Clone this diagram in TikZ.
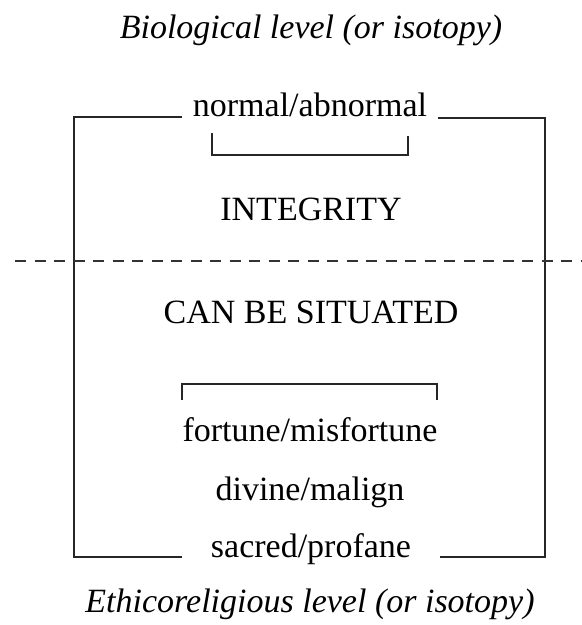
\documentclass[tikz,border=0pt]{standalone}
\usepackage{fontspec}
\setmainfont{Liberation Serif}
\usepackage{tikz}

\begin{document}
\begin{tikzpicture}[x=1pt,y=-1pt,
    term/.style={inner sep=0pt,anchor=base,font=\fontsize{34}{40}\selectfont},
    level/.style={term,font=\fontsize{34}{40}\selectfont\itshape},
    bracket/.style={line width=1.1pt,black!85},
    divider/.style={line width=1.1pt,black!80,dash pattern=on 11pt off 8.5pt}]
   \useasboundingbox (0,0) rectangle (582,625);

   % levels
   \node[level] (bio) at (311,38) {Biological level (or isotopy)};
   \node[level] (ethic) at (310,612) {Ethicoreligious level (or isotopy)};

   % upper half
   \node[term] (norm) at (310,116) {normal/abnormal};
   \node[term] (integ) at (311,220) {INTEGRITY};

   % lower half
   \node[term] (situ) at (311,323) {CAN BE SITUATED};
   \node[term] (fort) at (310,441) {fortune/misfortune};
   \node[term] (div) at (310,500) {divine/malign};
   \node[term] (sacr) at (311,557) {sacred/profane};

   % big bracket
   \coordinate (tlend) at (182,117);  \coordinate (tl) at (74,117);
   \coordinate (bl) at (74,557);      \coordinate (blend) at (182,557);
   \coordinate (trend) at (438,118);  \coordinate (tr) at (545,118);
   \coordinate (br) at (545,557);     \coordinate (brend) at (440,557);
   \draw[bracket] (tlend) -- (tl) -- (bl) -- (blend);
   \draw[bracket] (trend) -- (tr) -- (br) -- (brend);

   % small brackets
   \draw[bracket] (212,133) -- (212,155) -- (408,155) -- (408,136);
   \draw[bracket] (182,400) -- (182,384) -- (437,384) -- (437,400);

   % level boundary
   \coordinate (dl) at (15,261);
   \coordinate (dr) at (582,261);
   \draw[divider] (dl) -- (dr);
\end{tikzpicture}
\end{document}
